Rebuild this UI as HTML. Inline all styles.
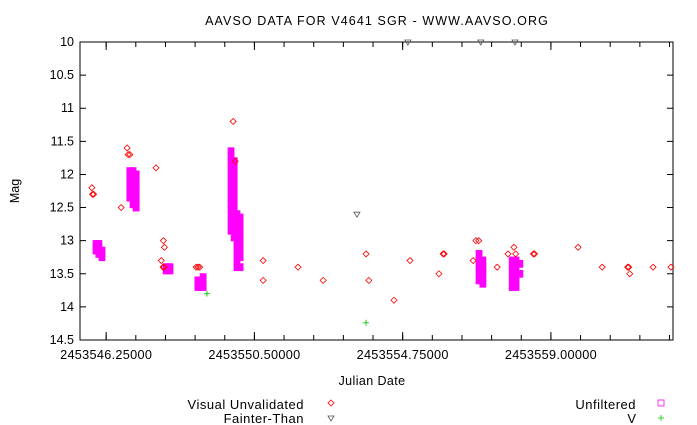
<!DOCTYPE html>
<html><head><meta charset="utf-8"><style>
body{margin:0;background:#fff;}
svg{display:block;font-family:"Liberation Sans",sans-serif;}
</style></head><body>
<svg id="chart" width="697" height="425">
<text x="377" y="25" text-anchor="middle" font-size="12.5" letter-spacing="1.1">AAVSO DATA FOR V4641 SGR - WWW.AAVSO.ORG</text>
<text transform="translate(19,191) rotate(-90)" text-anchor="middle" font-size="12.5">Mag</text>
<text x="372" y="385" text-anchor="middle" font-size="12.5" letter-spacing="0.4">Julian Date</text>
<g id="axes"></g>
<g id="marks"></g>
<g>
<text x="304" y="409" text-anchor="end" font-size="13" letter-spacing="0.5">Visual Unvalidated</text>
<path d="M331,400 l3,3 l-3,3 l-3,-3z" fill="none" stroke="#f00" stroke-width="0.8"/>
<text x="304" y="423" text-anchor="end" font-size="13" letter-spacing="0.5">Fainter-Than</text>
<path d="M328,416 l6,0 l-3,5z" fill="none" stroke="#555" stroke-width="0.8"/>
<text x="636" y="409" text-anchor="end" font-size="13" letter-spacing="0.5">Unfiltered</text>
<rect x="658" y="400" width="6" height="6" fill="none" stroke="#f0f" stroke-width="0.8"/>
<text x="636" y="423" text-anchor="end" font-size="13">V</text>
<path d="M658,418 h6 M661,415 v6" stroke="#0c0" stroke-width="0.8"/>
</g>
</svg>
<script>
const visJD=[2453545.84,2453545.86,2453545.89,2453546.68,2453546.85,2453546.88,2453546.93,2453547.68,2453547.89,2453547.92,2453547.83,2453547.88,2453547.91,2453548.83,2453548.88,2453548.93,2453549.89,2453549.95,2453550.75,2453550.75,2453551.75,2453552.47,2453553.70,2453553.78,2453554.50,2453554.96,2453555.79,2453555.91,2453555.94,2453556.77,2453556.85,2453556.93,2453557.46,2453557.77,2453557.94,2453557.99,2453558.50,2453558.53,2453559.78,2453560.47,2453561.20,2453561.23,2453561.26,2453561.93,2453562.44];
const visMag=[12.2,12.3,12.3,12.5,11.6,11.7,11.7,11.9,13.0,13.1,13.3,13.4,13.4,13.4,13.4,13.4,11.2,11.8,13.3,13.6,13.4,13.6,13.2,13.6,13.9,13.3,13.5,13.2,13.2,13.3,13.0,13.0,13.4,13.2,13.1,13.2,13.2,13.2,13.1,13.4,13.4,13.4,13.5,13.4,13.4];
const ftJD=[2453553.44,2453554.90,2453556.99,2453557.97];
const ftMag=[12.6,10.0,10.0,10.0];
const vJD=[2453549.14,2453553.70];
const vMag=[13.8,14.24];
const unfJD=[2453545.96,2453545.96,2453545.96,2453546.04,2453546.04,2453546.04,2453546.04,2453546.13,2453546.13,2453546.13,
2453546.93,2453546.93,2453546.93,2453546.93,2453546.93,2453547.02,2453547.02,2453547.02,2453547.02,2453547.02,2453547.02,2453547.11,2453547.11,2453547.11,2453547.11,2453547.11,2453547.11,
2453547.97,2453547.97,2453548.08,2453548.08,
2453548.88,2453548.88,2453548.88,2453549.03,2453549.03,2453549.03,2453549.03,
2453549.83,2453549.83,2453549.83,2453549.83,2453549.83,2453549.83,2453549.83,2453549.83,2453549.83,2453549.83,2453549.83,2453549.83,2453549.83,
2453549.92,2453549.92,2453549.92,2453549.92,2453549.92,2453549.92,2453549.92,2453549.92,2453549.92,2453549.92,2453549.92,2453549.92,
2453550.00,2453550.00,2453550.00,2453550.00,2453550.00,2453550.00,2453550.00,2453550.00,2453550.00,
2453550.09,2453550.09,2453550.09,2453550.09,2453550.09,2453550.09,2453550.09,2453550.09,
2453556.94,2453556.94,2453556.94,2453556.94,2453556.94,2453557.05,2453557.05,2453557.05,2453557.05,2453557.05,2453557.05,
2453557.89,2453557.89,2453557.89,2453557.89,2453557.89,2453558.00,2453558.00,2453558.00,2453558.00,2453558.00,2453558.11,2453558.11];
const unfMag=[13.05,13.1,13.15,13.05,13.1,13.15,13.2,13.15,13.2,13.25,
11.95,12.05,12.15,12.25,12.35,11.95,12.05,12.15,12.25,12.35,12.45,12.0,12.1,12.2,12.3,12.4,12.5,
13.4,13.45,13.4,13.45,
13.6,13.65,13.7,13.55,13.6,13.65,13.7,
11.65,11.75,11.85,11.95,12.05,12.15,12.25,12.35,12.45,12.55,12.65,12.75,12.85,
11.8,11.9,12.0,12.1,12.2,12.3,12.4,12.5,12.6,12.7,12.8,12.95,
12.6,12.7,12.8,12.9,13.0,13.1,13.2,13.3,13.4,
12.65,12.75,12.85,12.95,13.05,13.15,13.25,13.4,
13.2,13.3,13.4,13.5,13.6,13.3,13.4,13.45,13.5,13.6,13.65,
13.3,13.4,13.5,13.6,13.7,13.3,13.4,13.5,13.6,13.7,13.35,13.5];
const yTicks=[10,10.5,11,11.5,12,12.5,13,13.5,14,14.5];
const xLabels=[2453546.25,2453550.5,2453554.75,2453559.0];
const xLabelText=["2453546.25000","2453550.50000","2453554.75000","2453559.00000"];

const L=80,R=673,T=42,B=340,X0=2453545.5,X1=2453562.5,Y0=10,Y1=14.5;
const xs=v=>L+(v-X0)/(X1-X0)*(R-L);
const ys=v=>T+(v-Y0)/(Y1-Y0)*(B-T);
const NS="http://www.w3.org/2000/svg";
function mk(tag,attrs,parent){const e=document.createElementNS(NS,tag);for(const k in attrs)e.setAttribute(k,attrs[k]);parent.appendChild(e);return e;}
const ax=document.getElementById('axes'),mg=document.getElementById('marks');
const frame=mk('rect',{x:L,y:T,width:R-L,height:B-T,fill:'none',stroke:'#000','stroke-width':1},ax);


yTicks.forEach(v=>{const y=ys(v);
 mk('path',{d:`M${L},${y}h6M${R},${y}h-6`,stroke:'#000','stroke-width':1},ax);
 const t=mk('text',{x:L-6,y:y+4,'text-anchor':'end','font-size':12.5},ax);t.textContent=String(v);
 
 });
for(let v=X0+0.75-0.85*1;v<=X1;v+=0.85){if(v<X0)continue;const x=xs(v);
 mk('path',{d:`M${x},${B}v-5M${x},${T}v5`,stroke:'#000','stroke-width':1},ax);}
xLabels.forEach((v,i)=>{const x=xs(v);
 mk('path',{d:`M${x},${B}v-8M${x},${T}v8`,stroke:'#000','stroke-width':1},ax);
 const t=mk('text',{x:x,y:B+19,'text-anchor':'middle','font-size':12.7,'letter-spacing':0.3},ax);t.textContent=xLabelText[i];
 
 });
unfJD.forEach((d,i)=>{const x=xs(d),y=ys(unfMag[i]);
 const e=mk('rect',{x:x-3,y:y-3.5,width:6,height:7,fill:'#f0f',stroke:'#f0f','stroke-width':0.8},mg);
 
 });
visJD.forEach((d,i)=>{const x=xs(d),y=ys(visMag[i]);
 const e=mk('path',{d:`M${x},${y-3}l3,3l-3,3l-3,-3z`,fill:'none',stroke:'#f00','stroke-width':0.8},mg);
 
 });
ftJD.forEach((d,i)=>{const x=xs(d),y=ys(ftMag[i]);
 const e=mk('path',{d:`M${x-3},${y-2}h6l-3,5z`,fill:'none',stroke:'#555','stroke-width':0.8},mg);
 
 });
vJD.forEach((d,i)=>{const x=xs(d),y=ys(vMag[i]);
 const e=mk('path',{d:`M${x-3},${y}h6M${x},${y-3}v6`,stroke:'#0c0','stroke-width':0.9},mg);
 
 });
</script>
</body></html>
